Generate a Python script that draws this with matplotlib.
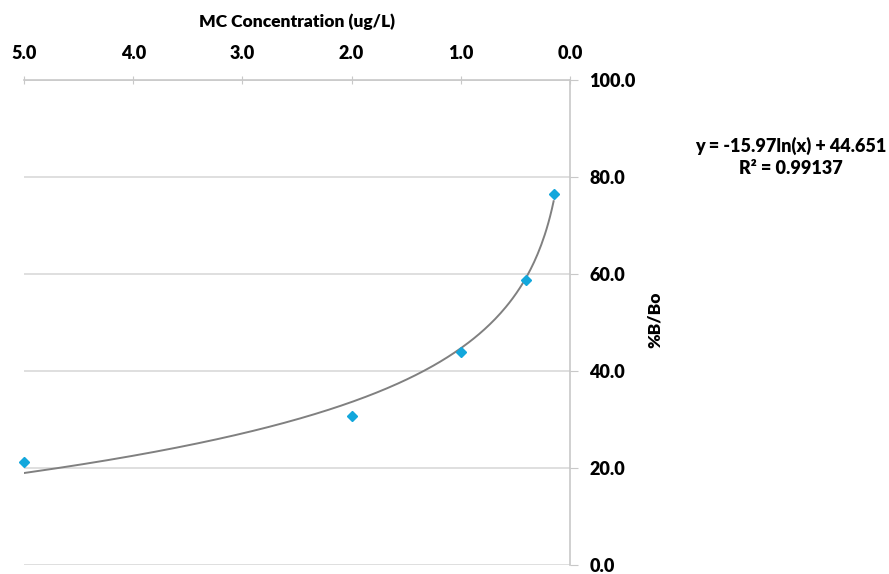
import numpy as np
import matplotlib
matplotlib.use("Agg")
import matplotlib.pyplot as plt

plt.rcParams['font.family'] = ['Lato', 'DejaVu Sans']

# data
conc = [5.0, 2.0, 1.0, 0.4, 0.15]
pct_b = [21.3, 30.7, 43.9, 58.7, 76.4]

# trendline coefficients as printed on the chart
slope = -15.97
intercept = 44.651
eq_text = "y = -15.97ln(x) + 44.651"
r2_text = "R² = 0.99137"

x_ticks = [5.0, 4.0, 3.0, 2.0, 1.0, 0.0]
y_ticks = [0, 20, 40, 60, 80, 100]

fig = plt.figure(figsize=(8.89, 5.74), dpi=100)
ax = fig.add_axes([24/889, 1 - 565/574, (570 - 24)/889, (565 - 79.6)/574])

# trend line over the data range
xs = np.linspace(min(conc), max(conc), 300)
ax.plot(xs, slope*np.log(xs) + intercept, color='#808080', lw=1.4, zorder=3)
ax.plot(conc, pct_b, linestyle='none', marker='D', markersize=5,
        color='#12a7dc', zorder=4, clip_on=False)

ax.set_xlim(5.0, 0.0)
ax.set_ylim(0, 100)
ax.set_xticks(x_ticks)
ax.set_xticklabels([f"{v:.1f}" for v in x_ticks])
ax.set_yticks(y_ticks)
ax.set_yticklabels([f"{v:.1f}" for v in y_ticks])

ax.xaxis.tick_top()
ax.yaxis.tick_right()
ax.grid(axis='y', color='#d9d9d9', lw=1.2)
ax.set_axisbelow(True)

for side in ['left', 'bottom']:
    ax.spines[side].set_visible(False)
for side in ['top', 'right']:
    ax.spines[side].set_color('#c8c8c8')
    ax.spines[side].set_linewidth(1.2)

ax.tick_params(axis='x', direction='inout', length=6, color='#c8c8c8',
               labelsize=13, pad=10)
ax.tick_params(axis='y', direction='out', length=6, color='#c8c8c8',
               labelsize=13, pad=8)
for lab in ax.get_xticklabels() + ax.get_yticklabels():
    lab.set_fontweight('heavy')

fig.text(297/889, 1 - 22/574, "MC Concentration (ug/L)", ha='center',
         va='center', fontsize=12.5, fontweight='heavy')
fig.text(655/889, 1 - 320/574, "%B/Bo", ha='center', va='center',
         rotation=90, fontsize=12.5, fontweight='heavy')
fig.text(791/889, 1 - 146/574, eq_text, ha='center', va='center',
         fontsize=13, fontweight='heavy')
fig.text(791/889, 1 - 169/574, r2_text, ha='center', va='center',
         fontsize=13, fontweight='heavy')

fig.savefig("out.png", dpi=100)
